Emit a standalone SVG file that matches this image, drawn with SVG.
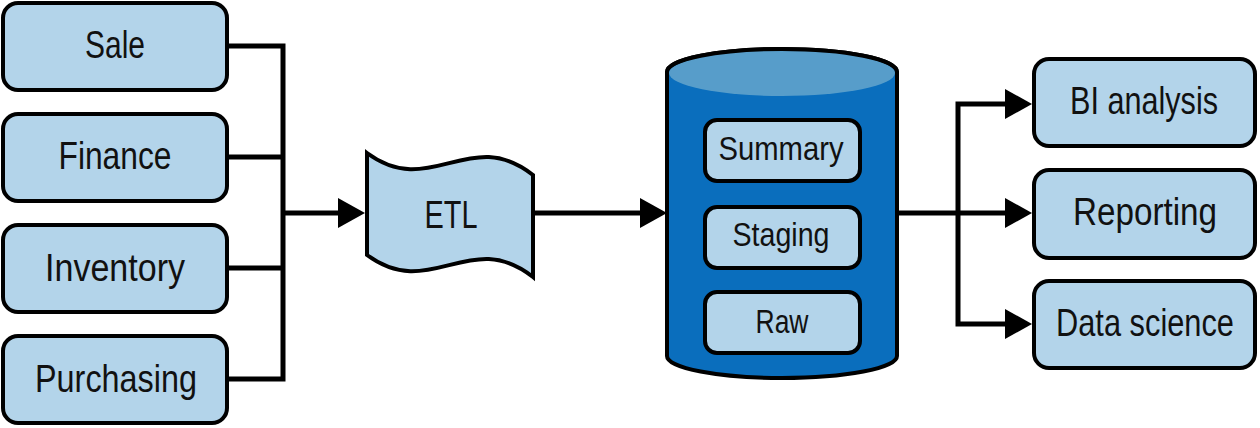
<svg xmlns="http://www.w3.org/2000/svg" width="1260" height="428" viewBox="0 0 1260 428">
<defs>
<style>
.box{fill:#b3d4ea;stroke:#000;stroke-width:4}
.lbl{font-family:"Liberation Sans","Roboto",sans-serif;font-size:39px;fill:#111;text-anchor:middle}
.sm{font-size:34px}
.ln{fill:none;stroke:#000;stroke-width:5;stroke-linejoin:miter}
.ah{fill:#000}
</style>
</defs>
<rect width="1260" height="428" fill="#fff"/>
<g id="sale"><rect class="box" x="3" y="3" width="224" height="87" rx="15"/><text class="lbl" x="115" y="58" textLength="60" lengthAdjust="spacingAndGlyphs">Sale</text></g>
<g id="finance"><rect class="box" x="3" y="114" width="224" height="87" rx="15"/><text class="lbl" x="115" y="169" textLength="113" lengthAdjust="spacingAndGlyphs">Finance</text></g>
<g id="inventory"><rect class="box" x="3" y="225" width="224" height="87" rx="15"/><text class="lbl" x="115" y="281" textLength="140" lengthAdjust="spacingAndGlyphs">Inventory</text></g>
<g id="purchasing"><rect class="box" x="3" y="336" width="224" height="87" rx="15"/><text class="lbl" x="116" y="392" textLength="162" lengthAdjust="spacingAndGlyphs">Purchasing</text></g>
<g id="etl">
<path class="box" d="M367,153 C430,200 470,125 533,175 L533,277 C470,227 430,302 367,255 Z"/>
<text class="lbl" x="451" y="228" textLength="53" lengthAdjust="spacingAndGlyphs">ETL</text>
</g>
<g id="warehouse">
<path d="M667,72 L667,356 A115,22 0 0 0 897,356 L897,72 A115,23 0 0 0 667,72 Z" fill="#0a6ebd" stroke="#000" stroke-width="4"/>
<ellipse cx="782" cy="73" rx="113" ry="23" fill="#579dca"/>
<path d="M667,72 A115,23 0 0 1 897,72" fill="none" stroke="#000" stroke-width="4"/>
<g id="summary"><rect class="box" x="705" y="120" width="155" height="61" rx="12"/><text class="lbl sm" x="781" y="160" textLength="125" lengthAdjust="spacingAndGlyphs">Summary</text></g>
<g id="staging"><rect class="box" x="705" y="207" width="155" height="61" rx="12"/><text class="lbl sm" x="781" y="246" textLength="97" lengthAdjust="spacingAndGlyphs">Staging</text></g>
<g id="raw"><rect class="box" x="705" y="292" width="155" height="61" rx="12"/><text class="lbl sm" x="782" y="333" textLength="53" lengthAdjust="spacingAndGlyphs">Raw</text></g>
</g>
<g id="bi"><rect class="box" x="1034" y="59" width="221" height="87" rx="15"/><text class="lbl" x="1144" y="114" textLength="148" lengthAdjust="spacingAndGlyphs">BI analysis</text></g>
<g id="reporting"><rect class="box" x="1034" y="170" width="221" height="88" rx="15"/><text class="lbl" x="1145" y="225" textLength="144" lengthAdjust="spacingAndGlyphs">Reporting</text></g>
<g id="datascience"><rect class="box" x="1034" y="281" width="221" height="87" rx="15"/><text class="lbl" x="1145" y="336" font-size="35" textLength="178" lengthAdjust="spacingAndGlyphs">Data science</text></g>
<g id="connectors">
<path class="ln" d="M229,46 H283 M229,157 H283 M229,268 H283 M229,379 H283 M283,43.5 V381.5 M283,213 H340"/>
<polygon class="ah" points="338,198 365,213 338,228"/>
<path class="ln" d="M533,213 H642"/>
<polygon class="ah" points="640,198 667,213 640,228"/>
<path class="ln" d="M897,213 H1007 M958,104 H1007 M958,324 H1007 M958,101.5 V326.5"/>
<polygon class="ah" points="1005,89 1032,104 1005,119"/>
<polygon class="ah" points="1005,198 1032,213 1005,228"/>
<polygon class="ah" points="1005,309 1032,324 1005,339"/>
</g>
</svg>
